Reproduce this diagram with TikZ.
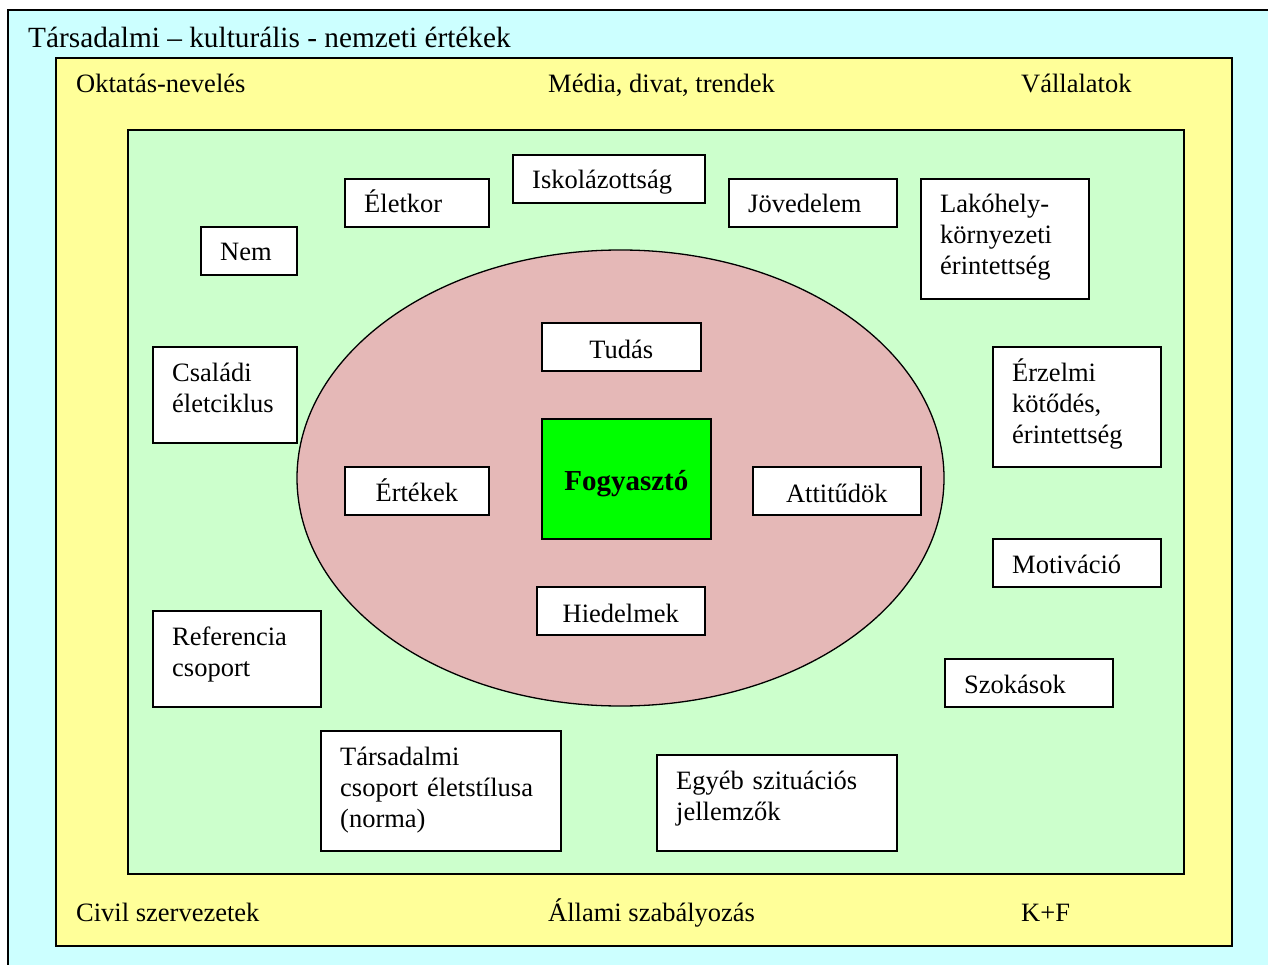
\documentclass[tikz,border=0pt]{standalone}
\usepackage{fontspec}
\setmainfont{Liberation Serif}
\definecolor{cyanbg}{RGB}{204,255,255}
\definecolor{yellowbg}{RGB}{255,255,153}
\definecolor{greenbg}{RGB}{204,255,204}
\definecolor{rosebg}{RGB}{229,184,183}
\definecolor{coregreen}{RGB}{0,255,0}
\begin{document}
\begin{tikzpicture}[x=1pt,y=-1pt,
    every node/.style={font=\fontsize{26.5}{31}\selectfont, inner sep=0pt},
    frame/.style={draw, line width=2pt},
    box/.style={draw, fill=white, line width=1.6pt, anchor=north west},
    boxtext/.style={anchor=base west, text width=260pt, align=left}]
    \useasboundingbox (0,0) rectangle (1268,965);
    \clip (0,0) rectangle (1268,965);
    % nested frames
    \draw[frame, fill=cyanbg] (8,10) rectangle (1285,985);
    \draw[frame, fill=yellowbg] (56,58) rectangle (1232,946);
    \draw[frame, fill=greenbg] (128,130) rectangle (1184,874);
    \draw[line width=1.3pt, fill=rosebg] (620.5,478) ellipse [x radius=323.5, y radius=228];
    % frame titles
    \node[anchor=base west, font=\fontsize{29.3}{34}\selectfont] (values) at (28,48) {Társadalmi – kulturális - nemzeti értékek};
    \node[anchor=base west] (education) at (76,93) {Oktatás-nevelés};
    \node[anchor=base west] (media) at (548,93) {Média, divat, trendek};
    \node[anchor=base west] (companies) at (1021,93) {Vállalatok};
    \node[anchor=base west] (civil) at (76,921) {Civil szervezetek};
    \node[anchor=base west] (state) at (548,921) {Állami szabályozás};
    \node[anchor=base west] (rnd) at (1021,921) {K+F};
    % outer factors
    \node[box, minimum width=96, minimum height=48] (gender) at (200,226) {};
    \node[boxtext] (gendertext) at ([shift={(20,35)}]gender.north west) {Nem};
    \node[box, minimum width=144, minimum height=48] (age) at (344,178) {};
    \node[boxtext] (agetext) at ([shift={(20,35)}]age.north west) {Életkor};
    \node[box, minimum width=192, minimum height=48] (school) at (512,154) {};
    \node[boxtext] (schooltext) at ([shift={(20,35)}]school.north west) {Iskolázottság};
    \node[box, minimum width=168, minimum height=48] (income) at (728,178) {};
    \node[boxtext] (incometext) at ([shift={(20,35)}]income.north west) {Jövedelem};
    \node[box, minimum width=168, minimum height=120] (home) at (920,178) {};
    \node[boxtext] (hometext) at ([shift={(20,35)}]home.north west) {Lakóhely-\\környezeti\\érintettség};
    \node[box, minimum width=144, minimum height=96] (family) at (152,346) {};
    \node[boxtext] (familytext) at ([shift={(20,35)}]family.north west) {Családi\\életciklus};
    \node[box, minimum width=168, minimum height=120] (emotion) at (992,346) {};
    \node[boxtext] (emotiontext) at ([shift={(20,35)}]emotion.north west) {Érzelmi\\kötődés,\\érintettség};
    \node[box, minimum width=168, minimum height=48] (motive) at (992,538) {};
    \node[boxtext] (motivetext) at ([shift={(20,35)}]motive.north west) {Motiváció};
    \node[box, minimum width=168, minimum height=48] (habits) at (944,658) {};
    \node[boxtext] (habitstext) at ([shift={(20,35)}]habits.north west) {Szokások};
    \node[box, minimum width=168, minimum height=96] (reference) at (152,610) {};
    \node[boxtext] (referencetext) at ([shift={(20,35)}]reference.north west) {Referencia\\csoport};
    \node[box, minimum width=240, minimum height=120] (lifestyle) at (320,730) {};
    \node[boxtext] (lifestyletext) at ([shift={(20,35)}]lifestyle.north west) {Társadalmi\\csoport életstílusa\\(norma)};
    \node[box, minimum width=240, minimum height=96] (situation) at (656,754) {};
    \node[boxtext] (situationtext) at ([shift={(20,35)}]situation.north west) {Egyéb szituációs\\jellemzők};
    % inner factors
    \node[box, minimum width=159, minimum height=48] (knowledge) at (541,322) {};
    \node[anchor=base] (knowledgetext) at ([shift={(0,36)}]knowledge.north) {Tudás};
    \node[box, minimum width=144, minimum height=48] (worth) at (344,466) {};
    \node[anchor=base] (worthtext) at ([shift={(0,35)}]worth.north) {Értékek};
    \node[box, minimum width=168, minimum height=48] (attitude) at (752,466) {};
    \node[anchor=base] (attitudetext) at ([shift={(0,36)}]attitude.north) {Attitűdök};
    \node[box, minimum width=168, minimum height=48] (belief) at (536,586) {};
    \node[anchor=base] (belieftext) at ([shift={(0,36)}]belief.north) {Hiedelmek};
    \node[box, fill=coregreen, minimum width=169, minimum height=120] (consumer) at (541,418) {};
    \node[anchor=base, font=\fontsize{29}{31}\selectfont\bfseries] (consumertext)
        at ([shift={(0,72)}]consumer.north) {Fogyasztó};
\end{tikzpicture}
\end{document}
